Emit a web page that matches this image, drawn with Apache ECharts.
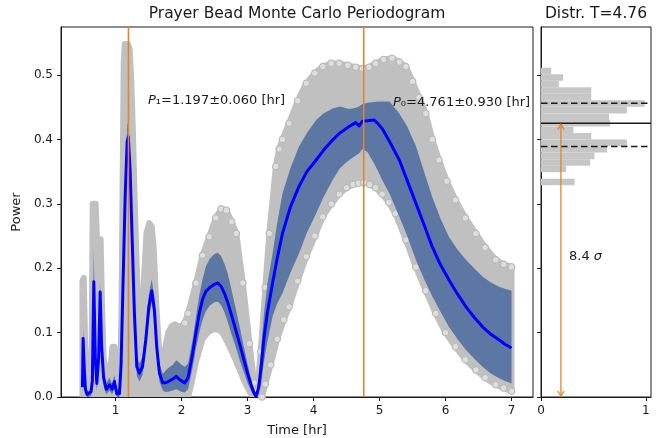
<!DOCTYPE html>
<html>
<head>
<meta charset="utf-8">
<script src="https://cdn.jsdelivr.net/npm/echarts@6/dist/echarts.min.js"></script>
<style>
  html, body { margin: 0; padding: 0; background: #fff; }
  #chart { width: 663px; height: 438px; }
</style>
</head>
<body>
<div id="chart"></div>
<script>
// Trial periods [hr] with the mean power and the mean ± 1σ band
const periodT = [0.50,0.51,0.525,0.545,0.57,0.60,0.63,0.65,0.672,0.695,0.717,0.745,0.768,0.79,0.82,0.86,0.91,0.95,0.985,1.02,1.06,1.085,1.11,1.147,1.177,1.195,1.222,1.252,1.287,1.323,1.363,1.41,1.46,1.505,1.55,1.59,1.625,1.666,1.716,1.75,1.80,1.87,1.92,1.96,2.00,2.05,2.10,2.17,2.22,2.27,2.32,2.37,2.43,2.50,2.55,2.60,2.65,2.70,2.75,2.82,2.88,2.94,3.00,3.06,3.10,3.13,3.17,3.21,3.25,3.30,3.38,3.45,3.53,3.65,3.78,3.90,4.04,4.15,4.29,4.40,4.54,4.64,4.69,4.74,4.82,4.92,4.98,5.04,5.15,5.30,5.42,5.55,5.68,5.80,5.92,6.05,6.18,6.31,6.44,6.56,6.68,6.81,6.90,7.00];
const meanPower = [0.015,0.091,0.050,0.012,0.004,0.003,0.008,0.025,0.179,0.060,0.021,0.060,0.163,0.080,0.030,0.012,0.019,0.012,0.024,0.005,0.005,0.050,0.156,0.311,0.396,0.404,0.352,0.249,0.130,0.047,0.037,0.047,0.089,0.140,0.165,0.135,0.078,0.037,0.022,0.022,0.024,0.028,0.032,0.028,0.025,0.022,0.030,0.068,0.100,0.130,0.152,0.164,0.170,0.175,0.177,0.172,0.161,0.147,0.130,0.105,0.083,0.060,0.037,0.017,0.006,0.001,0.015,0.050,0.092,0.130,0.177,0.215,0.254,0.295,0.327,0.350,0.368,0.383,0.399,0.410,0.420,0.426,0.421,0.428,0.429,0.430,0.424,0.417,0.397,0.368,0.336,0.301,0.266,0.233,0.206,0.182,0.160,0.140,0.123,0.109,0.098,0.089,0.082,0.076];
const bandHigh = [0.020,0.107,0.062,0.020,0.010,0.008,0.016,0.040,0.231,0.080,0.035,0.080,0.177,0.095,0.045,0.022,0.030,0.020,0.034,0.012,0.012,0.065,0.172,0.330,0.422,0.428,0.375,0.270,0.150,0.062,0.052,0.062,0.105,0.158,0.183,0.152,0.095,0.052,0.036,0.040,0.045,0.050,0.057,0.054,0.050,0.047,0.052,0.090,0.125,0.158,0.183,0.203,0.215,0.222,0.224,0.219,0.207,0.192,0.170,0.138,0.110,0.080,0.052,0.026,0.012,0.005,0.030,0.080,0.130,0.175,0.223,0.270,0.316,0.355,0.389,0.410,0.430,0.440,0.448,0.451,0.447,0.449,0.451,0.455,0.457,0.458,0.459,0.459,0.459,0.440,0.420,0.390,0.348,0.310,0.278,0.249,0.229,0.213,0.199,0.187,0.178,0.171,0.168,0.165];
const bandLow = [0.010,0.075,0.038,0.005,0.000,0.000,0.002,0.012,0.150,0.040,0.010,0.045,0.148,0.065,0.018,0.004,0.010,0.004,0.014,0.000,0.000,0.040,0.140,0.290,0.370,0.380,0.330,0.228,0.110,0.033,0.024,0.034,0.074,0.122,0.148,0.118,0.062,0.024,0.010,0.008,0.008,0.010,0.012,0.010,0.008,0.007,0.012,0.046,0.076,0.100,0.120,0.133,0.142,0.147,0.148,0.143,0.132,0.117,0.100,0.078,0.058,0.040,0.022,0.008,0.001,0.000,0.004,0.024,0.055,0.085,0.125,0.145,0.161,0.193,0.223,0.255,0.285,0.310,0.337,0.355,0.368,0.375,0.378,0.385,0.380,0.362,0.350,0.337,0.316,0.280,0.250,0.213,0.182,0.156,0.133,0.109,0.090,0.073,0.059,0.047,0.037,0.029,0.025,0.021];

// Upper and lower envelope of all Monte Carlo periodograms
const envHighT = [0.50,0.52,0.545,0.57,0.61,0.64,0.655,0.70,0.72,0.775,0.795,0.82,0.86,0.90,0.93,0.955,0.985,1.02,1.05,1.07,1.09,1.11,1.125,1.14,1.19,1.215,1.24,1.265,1.29,1.32,1.36,1.40,1.43,1.47,1.51,1.55,1.58,1.62,1.66,1.70,1.75,1.80,1.85,1.90,1.95,2.00,2.05,2.10,2.22,2.32,2.42,2.52,2.60,2.68,2.76,2.83,2.93,3.03,3.10,3.15,3.20,3.27,3.33,3.43,3.48,3.53,3.63,3.76,3.89,4.02,4.14,4.27,4.39,4.52,4.64,4.74,4.84,4.94,5.06,5.19,5.30,5.40,5.50,5.60,5.70,5.80,5.90,6.02,6.15,6.30,6.46,6.60,6.76,6.88,7.00];
const envHigh = [0.180,0.185,0.060,0.020,0.020,0.080,0.300,0.300,0.245,0.245,0.150,0.060,0.040,0.035,0.050,0.078,0.078,0.030,0.020,0.040,0.120,0.350,0.520,0.548,0.548,0.540,0.490,0.410,0.310,0.210,0.090,0.100,0.180,0.255,0.270,0.265,0.230,0.140,0.075,0.060,0.075,0.100,0.110,0.113,0.110,0.110,0.115,0.130,0.177,0.220,0.249,0.278,0.292,0.290,0.272,0.254,0.177,0.083,0.022,0.010,0.070,0.170,0.254,0.358,0.385,0.400,0.425,0.460,0.487,0.503,0.513,0.518,0.518,0.515,0.512,0.510,0.512,0.518,0.524,0.526,0.520,0.513,0.490,0.465,0.440,0.400,0.368,0.335,0.306,0.278,0.254,0.232,0.213,0.206,0.202];
const envLowT = [0.50,2.10,2.15,2.22,2.32,2.40,2.47,2.55,2.62,2.72,2.83,2.93,3.03,3.10,3.22,3.27,3.35,3.45,3.55,3.63,3.76,3.89,4.02,4.14,4.27,4.39,4.50,4.60,4.68,4.76,4.85,4.94,5.04,5.14,5.24,5.40,5.55,5.70,5.85,6.00,6.15,6.30,6.46,6.60,6.76,6.88,7.00];
const envLow = [0.000,0.000,0.020,0.055,0.090,0.100,0.105,0.105,0.100,0.080,0.055,0.030,0.008,0.000,0.000,0.020,0.050,0.090,0.120,0.140,0.180,0.218,0.250,0.280,0.300,0.315,0.325,0.330,0.332,0.333,0.330,0.325,0.315,0.302,0.285,0.244,0.202,0.165,0.130,0.100,0.078,0.058,0.042,0.030,0.019,0.014,0.009];

// Best periods marked on the periodogram
const peakPeriods = [1.197, 4.761];

// Distribution of power at T = 4.76: bin edges and normalised counts
const histEdges = [0.5113,0.5012,0.4910,0.4809,0.4708,0.4606,0.4505,0.4403,0.4302,0.4200,0.4099,0.3997,0.3896,0.3795,0.3693,0.3592,0.3490,0.3389,0.3288];
const histCounts = [0.098,0.21,0.17,0.48,0.48,0.99,0.82,0.65,0.66,0.31,0.48,0.82,0.63,0.51,0.47,0.24,0,0.32];
const distMean = 0.425;
const distSigmaLines = [0.456, 0.389];
const arrowX = 0.19;

const xTicks = [1, 2, 3, 4, 5, 6, 7];
const yTicks = [0, 0.1, 0.2, 0.3, 0.4, 0.5];
const distTicks = [0, 1];

const FONT = '"DejaVu Sans", sans-serif';
const INK = '#1a1a1a';
const ORANGE = '#e08431';
const Y_MAX = 0.5745;

const chart = echarts.init(document.getElementById('chart'), null, { renderer: 'canvas' });

function pairs(xs, ys) { return xs.map((x, i) => [x, ys[i]]); }

// Filled polygon between an upper and a lower curve, positioned through the axes
function fillBetween(upT, up, lowT, low, style, z) {
  return {
    type: 'custom', xAxisIndex: 0, yAxisIndex: 0, z: z, silent: true, clip: true,
    data: [[upT[0], up[0]]],
    renderItem: function (params, api) {
      const pts = [];
      for (let i = 0; i < upT.length; i++) pts.push(api.coord([upT[i], up[i]]));
      for (let i = lowT.length - 1; i >= 0; i--) pts.push(api.coord([lowT[i], low[i]]));
      return { type: 'polygon', shape: { points: pts }, style: style };
    }
  };
}

// Hollow markers along the envelope edge (the periodograms are drawn as rings)
function beads(xs, ys, fromT, z) {
  return {
    type: 'line', xAxisIndex: 0, yAxisIndex: 0, z: z, silent: true,
    data: pairs(xs, ys).filter(p => p[0] >= fromT),
    lineStyle: { opacity: 0 },
    symbol: 'circle', symbolSize: 6.5, showSymbol: true,
    itemStyle: { color: '#dedede', borderColor: '#b9b9b9', borderWidth: 1.2 },
    animation: false
  };
}

const axisCommon = {
  axisLine: { show: true, lineStyle: { color: INK, width: 1 } },
  splitLine: { show: false },
  axisTick: { show: true, inside: false, length: 4, lineStyle: { color: INK, width: 1 } },
  axisLabel: { color: INK, fontSize: 12, fontFamily: FONT }
};

const option = {
  animation: false,
  backgroundColor: '#fff',
  grid: [
    { left: 61, top: 27, width: 472, height: 370, show: true, borderColor: INK, borderWidth: 1,
      backgroundColor: 'transparent', containLabel: false, outerBoundsMode: 'none' },
    { left: 541, top: 27, width: 110, height: 370, show: true, borderColor: INK, borderWidth: 1,
      backgroundColor: 'transparent', containLabel: false, outerBoundsMode: 'none' }
  ],
  xAxis: [
    Object.assign({}, axisCommon, {
      gridIndex: 0, type: 'value', min: 0.175, max: 7.325,
      axisTick: Object.assign({}, axisCommon.axisTick, { customValues: xTicks }),
      axisLabel: Object.assign({}, axisCommon.axisLabel, { customValues: xTicks, margin: 8 }),
      name: 'Time [hr]', nameLocation: 'middle', nameGap: 27,
      nameTextStyle: { color: INK, fontSize: 13, fontFamily: FONT }
    }),
    Object.assign({}, axisCommon, {
      gridIndex: 1, type: 'value', min: 0, max: 1.05,
      axisTick: Object.assign({}, axisCommon.axisTick, { customValues: distTicks }),
      axisLabel: Object.assign({}, axisCommon.axisLabel, { customValues: distTicks, margin: 8 })
    })
  ],
  yAxis: [
    Object.assign({}, axisCommon, {
      gridIndex: 0, type: 'value', min: 0, max: Y_MAX,
      axisTick: Object.assign({}, axisCommon.axisTick, { customValues: yTicks }),
      axisLabel: Object.assign({}, axisCommon.axisLabel, { customValues: yTicks, margin: 8, formatter: v => v.toFixed(1) }),
      name: 'Power', nameLocation: 'middle', nameGap: 36, nameRotate: 90,
      nameTextStyle: { color: INK, fontSize: 13, fontFamily: FONT }
    }),
    Object.assign({}, axisCommon, {
      gridIndex: 1, type: 'value', min: 0, max: Y_MAX,
      axisTick: Object.assign({}, axisCommon.axisTick, { customValues: yTicks }),
      axisLabel: { show: false }
    })
  ],
  series: [
    // Monte Carlo periodograms: full envelope
    fillBetween(envHighT, envHigh, envLowT, envLow,
      { fill: '#c0c0c0', stroke: '#c0c0c0', lineWidth: 6, lineJoin: 'round' }, 1),
    beads(envHighT, envHigh, 2.05, 2),
    beads(envLowT, envLow, 3.2, 2),
    // mean ± 1σ
    fillBetween(periodT, bandHigh, periodT, bandLow,
      { fill: 'rgba(40,80,150,0.65)' }, 3),
    // mean periodogram
    {
      type: 'line', xAxisIndex: 0, yAxisIndex: 0, z: 4, silent: true,
      data: pairs(periodT, meanPower), showSymbol: false, symbol: 'none',
      lineStyle: { color: '#0000ff', width: 3, join: 'round' }
    },
    // best-period markers
    ...peakPeriods.map(p => ({
      type: 'line', xAxisIndex: 0, yAxisIndex: 0, z: 5, silent: true,
      data: [[p, 0], [p, Y_MAX]], showSymbol: false, symbol: 'none',
      lineStyle: { color: ORANGE, width: 1.6 }
    })),
    // histogram of power at T = 4.76
    {
      type: 'custom', xAxisIndex: 1, yAxisIndex: 1, z: 1, silent: true,
      dimensions: ['lo', 'hi', 'count'],
      encode: { x: 2, y: [0, 1] },
      data: histCounts.map((c, i) => [histEdges[i + 1], histEdges[i], c]),
      renderItem: function (params, api) {
        const a = api.coord([0, api.value(1)]);
        const b = api.coord([api.value(2), api.value(0)]);
        return { type: 'rect', shape: { x: a[0], y: a[1], width: b[0] - a[0], height: b[1] - a[1] },
                 style: { fill: '#c6c6c6' } };
      }
    },
    ...distSigmaLines.map(v => ({
      type: 'line', xAxisIndex: 1, yAxisIndex: 1, z: 3, silent: true,
      data: [[0, v], [1.05, v]], showSymbol: false, symbol: 'none',
      lineStyle: { color: INK, width: 1.6, type: [6.5, 3.5] }
    })),
    {
      type: 'line', xAxisIndex: 1, yAxisIndex: 1, z: 3, silent: true,
      data: [[0, distMean], [1.05, distMean]], showSymbol: false, symbol: 'none',
      lineStyle: { color: INK, width: 1.4 }
    },
    // significance arrow from zero up to the mean power
    {
      type: 'custom', xAxisIndex: 1, yAxisIndex: 1, z: 4, silent: true,
      data: [[arrowX, distMean]],
      renderItem: function (params, api) {
        const top = api.coord([arrowX, distMean]);
        const bot = api.coord([arrowX, 0]);
        const h = 6, w = 3.2;
        const st = { stroke: ORANGE, lineWidth: 1.3, fill: null };
        return {
          type: 'group',
          children: [
            { type: 'line', shape: { x1: top[0], y1: top[1] + 1, x2: bot[0], y2: bot[1] - 1 }, style: st },
            { type: 'polyline', shape: { points: [[top[0] - w, top[1] + h], [top[0], top[1] + 1], [top[0] + w, top[1] + h]] }, style: st },
            { type: 'polyline', shape: { points: [[bot[0] - w, bot[1] - h], [bot[0], bot[1] - 1], [bot[0] + w, bot[1] - h]] }, style: st }
          ]
        };
      }
    }
  ],
  graphic: [
    { type: 'text', x: 297, y: 14, silent: true, z: 100,
      style: { text: 'Prayer Bead Monte Carlo Periodogram', fontSize: 15.5, fontFamily: FONT, fill: INK,
               align: 'center', verticalAlign: 'middle', textAlign: 'center', textVerticalAlign: 'middle' } },
    { type: 'text', x: 596, y: 14, silent: true, z: 100,
      style: { text: 'Distr. T=4.76', fontSize: 15.5, fontFamily: FONT, fill: INK,
               align: 'center', verticalAlign: 'middle', textAlign: 'center', textVerticalAlign: 'middle' } },
    { type: 'text', x: 148, y: 101, silent: true, z: 100,
      style: { text: '{i|P}₁=1.197±0.060 [hr]', fontSize: 13, fontFamily: FONT, fill: INK,
               rich: { i: { fontStyle: 'italic', fontSize: 13, fontFamily: FONT, fill: INK } },
               align: 'left', verticalAlign: 'middle', textAlign: 'left', textVerticalAlign: 'middle' } },
    { type: 'text', x: 393, y: 103, silent: true, z: 100,
      style: { text: '{i|P}₀=4.761±0.930 [hr]', fontSize: 13, fontFamily: FONT, fill: INK,
               rich: { i: { fontStyle: 'italic', fontSize: 13, fontFamily: FONT, fill: INK } },
               align: 'left', verticalAlign: 'middle', textAlign: 'left', textVerticalAlign: 'middle' } },
    { type: 'text', x: 569, y: 257, silent: true, z: 100,
      style: { text: '8.4 {i|σ}', fontSize: 13, fontFamily: FONT, fill: INK,
               rich: { i: { fontStyle: 'italic', fontSize: 13, fontFamily: FONT, fill: INK } },
               align: 'left', verticalAlign: 'middle', textAlign: 'left', textVerticalAlign: 'middle' } }
  ]
};

chart.setOption(option);
</script>
</body>
</html>
